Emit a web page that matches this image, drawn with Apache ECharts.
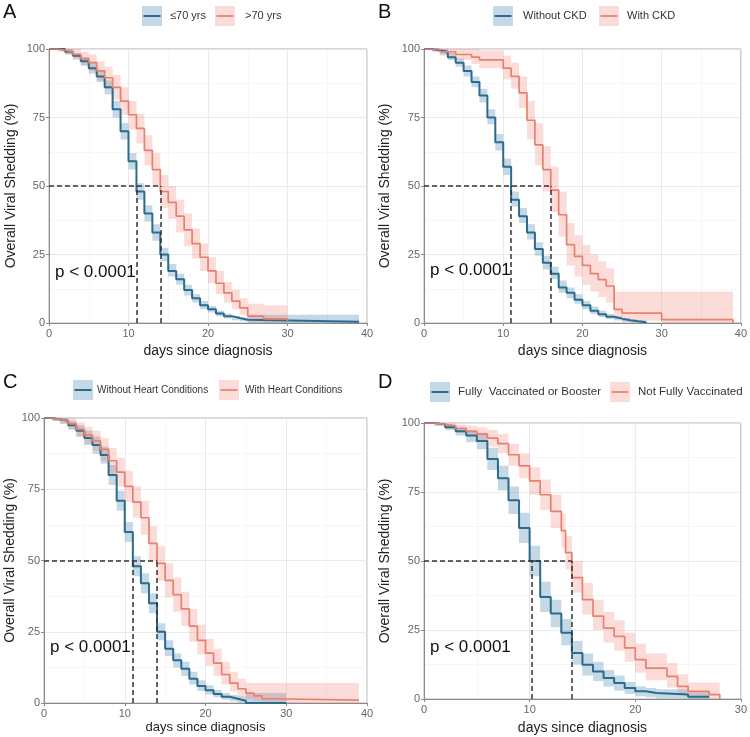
<!DOCTYPE html>
<html><head><meta charset="utf-8">
<script src="https://cdn.jsdelivr.net/npm/echarts/dist/echarts.min.js"></script>
<style>html,body{margin:0;padding:0;background:#fff}#c{width:750px;height:737px}</style>
</head><body><div id="c"></div>
<script>
// ---------- labels ----------
const panelLetters = ['A', 'B', 'C', 'D'];
const legendNames = [
  ['≤70 yrs', '>70 yrs'],
  ['Without CKD', 'With CKD'],
  ['Without Heart Conditions', 'With Heart Conditions'],
  ['Fully  Vaccinated or Booster', 'Not Fully Vaccinated']
];
const xAxisMax = [40, 40, 40, 30];
const xTickStep = 10;
const yTickStep = 25;
const xAxisTitle = 'days since diagnosis';
const yAxisTitle = 'Overall Viral Shedding (%)';
const pValueText = 'p < 0.0001';
const medians = [[11, 14], [11, 16], [11, 14], [10.2, 14]];

// ---------- Panel A ----------
const aBlueT  = [0,1,2,3,4,5,6,7,8,9,10,11,12,13,14,15,16,17,18,19,20,21,22,23,24,25,39];
const aBlue   = [100,100,99,97.5,95.5,93,90,86,78,70,59,48,40,33,25,19,16,12,9,6.5,5,3.5,2.5,1.8,1.2,0.5,0.5];
const aBlueLo = [100,99.5,98,96.5,94,91,88,83.5,75,67,56,45,37,30,22.5,17,14,10,7.5,5,3.8,2.5,1.6,1,0.6,0,0];
const aBlueHi = [100,100,100,98.5,97,95,92,88.5,81,73,62,51,43,36,27.5,21.5,18,14,10.5,8,6.2,4.5,3.4,2.6,2,3,3];
const aRedT   = [0,1,2,3,4,5,6,7,8,9,10,11,12,13,14,15,16,17,18,19,20,21,22,23,24,25,27,30];
const aRed    = [100,99.5,99,98,96.5,95,92,89.5,86,81,76,71,63,56,48,44,39,34,29,24,19,14.5,11,8,5.5,2.5,1.5,0.6];
const aRedLo  = [100,99,98,96,94,92,88.5,85.5,81.5,76,70.5,65.5,57.5,50,42,38,33,28,23.5,19,14.5,10.5,7.5,5,3,0.5,0,0];
const aRedHi  = [100,100,100,100,99,98,95.5,93.5,90.5,86,81,76.5,68.5,62,54,50,45,40,34.5,29,24,19,15,12,9,7,6.5,6.5];

// ---------- Panel B ----------
const bBlueT  = [0,1,2,3,4,5,6,7,8,9,10,11,12,13,14,15,16,17,18,19,20,21,22,23,24,25,26,27,28];
const bBlue   = [100,99.5,99,97,95,92,88,83,75,66,57,45,39,33,27,22,18,13,11,8.5,6.5,4.5,3.2,2.3,1.6,1,0.6,0.3,0];
const bBlueLo = [100,99,98,96,93.5,90,86,80.5,72.5,63,54,42.5,36.5,30.5,24.5,19.5,16,11,9,7,5,3.3,2.2,1.5,0.9,0.4,0.1,0,0];
const bBlueHi = [100,100,100,98.5,96.5,94,90,85.5,78,69,60,48,42,36,29.5,24.5,20.5,15.5,13,10.5,8,6,4.5,3.3,2.5,1.8,1.3,1,0.5];
const bRedT   = [0,2,4,6,7,10,11,12,13,14,15,16,17,18,19,20,21,22,23,24,25,30,39];
const bRed    = [100,99,98,97,96,93,90,84,74,65,56,48.5,39.5,28.6,24.3,21,18,15.8,13.5,5,3.6,1.2,0];
const bRedLo  = [100,97.5,96,94.5,93,89,85.5,78.5,67,57.5,48,40.5,31.5,21,17,14,11.5,9.5,7.5,1.5,0.8,0,0];
const bRedHi  = [100,100,100,100,99.5,97.5,95,90,81,73,64.5,57,48,36.5,32,28.5,25,22.5,20,11.5,11.5,11.5,11.5];

// ---------- Panel C ----------
const cBlueT  = [0,1,2,3,4,5,6,7,8,9,10,11,12,13,14,15,16,17,18,19,20,21,22,23,24,25,30];
const cBlue   = [100,99.5,99,97.5,95.5,93,90.5,87,80,71,60,48,42,35,25,19,15,12,8.5,6,4.5,3.2,2.2,1.5,0.8,0,0];
const cBlueLo = [100,99,98,96,93.5,90.5,87.5,84,76.5,67.5,56.5,44.5,38.5,31.5,22,16.5,12.5,9.5,6.5,4.2,3,2,1.2,0.6,0.2,0,0];
const cBlueHi = [100,100,100,99,97.5,95.5,93.5,90,83.5,74.5,63.5,51.5,45.5,38.5,28,22,17.5,14.5,11,8,6.2,4.6,3.5,2.8,2.5,3.5,3.5];
const cRedT   = [0,1,2,3,4,5,6,7,8,9,10,11,12,13,14,15,16,17,18,19,20,21,22,23,24,25,26,27,28,39];
const cRed    = [100,99.5,99,98,96,94,92,89,85,81,76,70.5,65,56,49,43,38,33,27,22,17.5,14,10,7,5,3.5,2.5,1.5,1,1];
const cRedLo  = [100,99,98,96,93.5,91,88.5,85,80.5,76,70.5,65,59,50,43,37,32,27,21.5,17,13,9.5,6.5,4,2.5,1.3,0.6,0.2,0,0];
const cRedHi  = [100,100,100,100,98.5,97,95.5,93,89.5,86,81.5,76,71,62,55,49,44,39,33,27.5,22.5,19,14.5,11,8.5,7,7,7,7,7];

// ---------- Panel D ----------
const dBlueT  = [0,1,2,3,4,5,6,7,8,9,10,11,12,13,14,15,16,17,18,19,20,21,22,25,27];
const dBlue   = [100,99.5,98.5,97,95.5,93.5,87,80,72,62,50,37,31,24,16.7,12.4,10,7.6,5.8,4,2.8,2.2,1.6,0.8,0.8];
const dBlueLo = [100,99,97.5,95.5,93,90.5,83,75.5,67,56.5,44.5,31.5,26,19.5,12.5,8.5,6.5,4.5,3,1.8,1,0.6,0.2,0,0];
const dBlueHi = [100,100,99.5,98.5,97.5,96.5,91,84.5,77,67.5,55.5,42.5,36,29,21,16.5,13.5,10.5,8.5,6.2,4.6,4,3.5,2.5,2.5];
const dRedT   = [0,1,2,3,4,5,6,7,8,9,10,11,12,13,13.4,14,15,16,17,18,19,20,21,23,24,25,27,28];
const dRed    = [100,99.5,99,98,97,96,94.5,92.5,88.5,84.5,79,74,68,61,53,44,36,30,25.7,22.7,18.5,14.3,11.2,8.2,4.6,2.8,1.6,0];
const dRedLo  = [100,99,98,96.5,95,93.5,91.5,89,84.5,80,74,68.5,62,55,47,38.5,30.5,25,20.5,17.5,13.5,9.5,6.8,4.2,1.5,0.5,0,0];
const dRedHi  = [100,100,100,99.5,99,98.5,97.5,96,92.5,89,84,79.5,74,67,59,50,42,36,31.5,28.5,24,20,16.5,13,9,6,6,6];

// ---------- assemble ----------
const curves = [
  [[aBlueT, aBlue, aBlueLo, aBlueHi], [aRedT, aRed, aRedLo, aRedHi]],
  [[bBlueT, bBlue, bBlueLo, bBlueHi], [bRedT, bRed, bRedLo, bRedHi]],
  [[cBlueT, cBlue, cBlueLo, cBlueHi], [cRedT, cRed, cRedLo, cRedHi]],
  [[dBlueT, dBlue, dBlueLo, dBlueHi], [dRedT, dRed, dRedLo, dRedHi]]
];

// ---------- styling / layout ----------
const FONT = "'Liberation Sans', Arial, sans-serif";
const lineColors = ['#2b6b8c', '#e8806f'];
const bandColors = ['rgba(70,135,175,0.32)', 'rgba(240,128,115,0.28)'];
const grids = [
  {left: 49, top: 49, width: 318, height: 274},
  {left: 424, top: 49, width: 317, height: 274},
  {left: 44, top: 418, width: 323, height: 285},
  {left: 424, top: 423, width: 317, height: 276}
];
const yNameGap = [31, 32, 27, 32];
const xNameGap = [21, 21, 18, 22];
const letterPos = [[3, 2], [378, 2], [3, 372], [378, 372]];
const legendPos = [
  {y: 16, fs: 11, keys: [[142, 170], [215, 245]]},
  {y: 16, fs: 11, keys: [[493, 523], [599, 627]]},
  {y: 390, fs: 10, keys: [[73, 97], [219, 245]]},
  {y: 392, fs: 11.5, keys: [[430, 458], [610, 638]]}
];
const pPos = [[55, 272], [430, 270], [50, 647], [430, 647]];

const xAxes = [], yAxes = [], series = [], graphic = [];

for (let p = 0; p < 4; p++) {
  xAxes.push({
    type: 'value', gridIndex: p, min: 0, max: xAxisMax[p], interval: xTickStep,
    name: xAxisTitle, nameLocation: 'middle', nameGap: xNameGap[p],
    nameTextStyle: {fontFamily: FONT, fontSize: p === 2 ? 13 : 14, color: '#222'},
    axisLine: {show: true, lineStyle: {color: '#8a8a8a', width: 1}},
    axisTick: {show: true, length: 3, lineStyle: {color: '#8a8a8a'}},
    axisLabel: {fontFamily: FONT, fontSize: 11, color: '#666', margin: 5},
    splitLine: {show: true, lineStyle: {color: '#e4e4e4', width: 0.8}},
    minorTick: {show: false, splitNumber: 2},
    minorSplitLine: {show: true, lineStyle: {color: '#f0f0f0', width: 0.6}}
  });
  yAxes.push({
    type: 'value', gridIndex: p, min: 0, max: 100, interval: yTickStep,
    name: yAxisTitle, nameLocation: 'middle', nameGap: yNameGap[p],
    nameTextStyle: {fontFamily: FONT, fontSize: 14, color: '#222'},
    axisLine: {show: true, lineStyle: {color: '#8a8a8a', width: 1}},
    axisTick: {show: true, length: 3, lineStyle: {color: '#8a8a8a'}},
    axisLabel: {fontFamily: FONT, fontSize: 11, color: '#666', margin: 4},
    splitLine: {show: true, lineStyle: {color: '#e4e4e4', width: 0.8}},
    minorTick: {show: false, splitNumber: 2},
    minorSplitLine: {show: true, lineStyle: {color: '#f0f0f0', width: 0.6}}
  });

  curves[p].forEach(function (c, g) {
    const T = c[0], V = c[1], LO = c[2], HI = c[3];
    // confidence band polygon (step shaped), via the axis scales
    series.push({
      type: 'custom', xAxisIndex: p, yAxisIndex: p, z: 1, silent: true,
      data: T.map(function (t, k) { return [t, LO[k], HI[k]]; }),
      encode: {x: 0, y: [1, 2]},
      renderItem: function (params, api) {
        if (params.dataIndex !== 0) return null;
        const top = [], bot = [];
        for (let k = 0; k < T.length; k++) {
          const tNext = k < T.length - 1 ? T[k + 1] : T[k];
          top.push(api.coord([T[k], HI[k]]), api.coord([tNext, HI[k]]));
          bot.push(api.coord([T[k], LO[k]]), api.coord([tNext, LO[k]]));
        }
        return {type: 'polygon', shape: {points: top.concat(bot.reverse())},
                style: {fill: bandColors[g], stroke: null}};
      }
    });
    const lineSeries = {
      type: 'line', xAxisIndex: p, yAxisIndex: p, z: 3, step: 'end',
      symbol: 'none', showSymbol: false, silent: true,
      data: T.map(function (t, k) { return [t, V[k]]; }),
      lineStyle: {color: lineColors[g], width: g === 0 ? 2 : 1.7}
    };
    if (g === 1) {
      const m = medians[p];
      lineSeries.markLine = {
        silent: true, symbol: ['none', 'none'], label: {show: false},
        lineStyle: {color: '#333', type: [5, 3], width: 1.5},
        data: [
          [{coord: [0, 50]}, {coord: [Math.max(m[0], m[1]), 50]}],
          [{coord: [m[0], 0]}, {coord: [m[0], 50]}],
          [{coord: [m[1], 0]}, {coord: [m[1], 50]}]
        ]
      };
    }
    series.push(lineSeries);
  });

  // panel letter
  graphic.push({type: 'text', left: letterPos[p][0], top: letterPos[p][1],
    style: {text: panelLetters[p], fontFamily: FONT, fontSize: 20, fill: '#111'}});
  // legend
  const L = legendPos[p];
  for (let g = 0; g < 2; g++) {
    const kx = L.keys[g][0], tx = L.keys[g][1];
    graphic.push({type: 'rect', shape: {x: kx, y: L.y - 10, width: 20, height: 20},
      style: {fill: bandColors[g]}, z: 10});
    graphic.push({type: 'line', shape: {x1: kx + 1.5, y1: L.y, x2: kx + 18.5, y2: L.y},
      style: {stroke: lineColors[g], lineWidth: g === 0 ? 2 : 1.7}, z: 11});
    graphic.push({type: 'text', x: tx, y: L.y, z: 11,
      style: {text: legendNames[p][g], fontFamily: FONT, fontSize: L.fs, fill: '#333',
              textVerticalAlign: 'middle', verticalAlign: 'middle'}});
  }
  // p value
  graphic.push({type: 'text', x: pPos[p][0], y: pPos[p][1], z: 12,
    style: {text: pValueText, fontFamily: FONT, fontSize: 17, fill: '#111',
            textVerticalAlign: 'middle', verticalAlign: 'middle'}});
}

const chart = echarts.init(document.getElementById('c'), null, {renderer: 'canvas'});
chart.setOption({
  animation: false,
  backgroundColor: '#fff',
  grid: grids.map(function (g) {
    return Object.assign({show: true, borderColor: '#b0b0b0', borderWidth: 1, backgroundColor: 'transparent'}, g);
  }),
  xAxis: xAxes,
  yAxis: yAxes,
  series: series,
  graphic: graphic
});
</script></body></html>
